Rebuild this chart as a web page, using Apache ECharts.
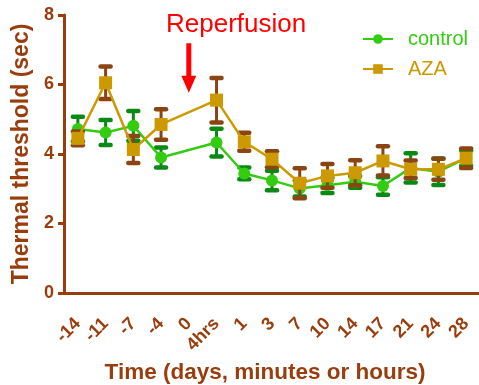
<!DOCTYPE html>
<html><head><meta charset="utf-8">
<script src="https://cdn.jsdelivr.net/npm/echarts@6/dist/echarts.min.js"></script>
<style>html,body{margin:0;padding:0;background:#fff}#c{width:479px;height:385px}</style>
</head><body><div id="c"></div>
<script>
var categories = ['-14','-11','-7','-4','0','4hrs','1','3','7','10','14','17','21','24','28'];
var controlMean = [4.72, 4.62, 4.81, 3.90, null, 4.33, 3.44, 3.24, 3.01, 3.10, 3.20, 3.08, 3.60, 3.49, 3.88];
var controlErr  = [0.35, 0.36, 0.43, 0.29, null, 0.40, 0.17, 0.28, 0.23, 0.22, 0.17, 0.25, 0.42, 0.38, 0.22];
var azaMean = [4.45, 6.05, 4.13, 4.85, null, 5.55, 4.35, 3.85, 3.16, 3.37, 3.46, 3.80, 3.56, 3.56, 3.88];
var azaErr  = [0.20, 0.47, 0.39, 0.44, null, 0.64, 0.26, 0.23, 0.43, 0.34, 0.36, 0.42, 0.25, 0.30, 0.28];
var yTicks = [0, 2, 4, 6, 8];

var AXIS = '#993d0d';
var FONT = '"Liberation Sans", Arial, sans-serif';

function errData(mean, err) {
  var out = [];
  for (var i = 0; i < mean.length; i++) {
    if (mean[i] == null) continue;
    out.push([i, mean[i] - err[i], mean[i] + err[i]]);
  }
  return out;
}
function errRender(color) {
  return function (params, api) {
    var x = api.value(0);
    var lo = api.coord([x, api.value(1)]);
    var hi = api.coord([x, api.value(2)]);
    var hw = 5;
    return { type: 'group', children: [
      { type: 'line', shape: { x1: lo[0], y1: lo[1], x2: hi[0], y2: hi[1] }, style: { stroke: color, lineWidth: 3 } },
      { type: 'line', shape: { x1: lo[0] - hw, y1: lo[1], x2: lo[0] + hw, y2: lo[1] }, style: { stroke: color, lineWidth: 4.5, lineCap: 'round' } },
      { type: 'line', shape: { x1: hi[0] - hw, y1: hi[1], x2: hi[0] + hw, y2: hi[1] }, style: { stroke: color, lineWidth: 4.5, lineCap: 'round' } }
    ]};
  };
}

var chart = echarts.init(document.getElementById('c'), null, { renderer: 'canvas' });
chart.setOption({
  animation: false,
  backgroundColor: '#fff',
  title: { text: 'Reperfusion', left: 166, top: 12, padding: 0,
    textStyle: { color: '#ff0000', fontSize: 26, fontWeight: 'normal', fontFamily: FONT } },
  legend: {
    orient: 'vertical', left: 362, top: 29, padding: 0, itemWidth: 30, itemHeight: 12, itemGap: 10,
    textStyle: { fontSize: 20, fontFamily: FONT, padding: [0, 0, 0, 10] },
    data: [
      { name: 'control', textStyle: { color: '#33cc11' } },
      { name: 'AZA', textStyle: { color: '#cc9900' } }
    ]
  },
  grid: { left: 64, right: -1, top: 15, bottom: 92, containLabel: false, outerBoundsMode: 'none' },
  xAxis: {
    type: 'category', data: categories, boundaryGap: true,
    name: 'Time (days, minutes or hours)', nameLocation: 'middle', nameGap: 65,
    nameTextStyle: { color: AXIS, fontSize: 22.5, fontWeight: 'bold', fontFamily: FONT, padding: [0, 14, 0, 0] },
    axisLine: { lineStyle: { color: AXIS, width: 3 } },
    axisTick: { alignWithLabel: true, length: 8, lineStyle: { color: AXIS, width: 3 } },
    axisLabel: { rotate: 45, color: AXIS, fontSize: 18, fontWeight: 'bold', fontFamily: FONT, margin: 28, interval: 0 },
    splitLine: { show: false }
  },
  yAxis: {
    type: 'value', min: 0, max: 8, interval: 2,
    name: 'Thermal threshold (sec)', nameLocation: 'middle', nameGap: 29,
    nameTextStyle: { color: AXIS, fontSize: 23, fontWeight: 'bold', fontFamily: FONT },
    axisLine: { show: true, lineStyle: { color: AXIS, width: 3 } },
    axisTick: { show: true, length: 6, lineStyle: { color: AXIS, width: 3 } },
    axisLabel: { color: AXIS, fontSize: 18, fontWeight: 'bold', fontFamily: FONT, margin: 10,
      formatter: function (v) { return yTicks.indexOf(v) >= 0 ? String(v) : ''; } },
    splitLine: { show: false }
  },
  series: [
    { name: 'control_err', type: 'custom', renderItem: errRender('#0a8a14'), data: errData(controlMean, controlErr),
      encode: { x: 0, y: [1, 2] }, z: 1, silent: true },
    { name: 'control', type: 'line', data: controlMean, connectNulls: true, z: 2,
      symbol: 'circle', symbolSize: 12, itemStyle: { color: '#33cc11' }, lineStyle: { color: '#33cc11', width: 2.5 } },
    { name: 'AZA_err', type: 'custom', renderItem: errRender('#8b4513'), data: errData(azaMean, azaErr),
      encode: { x: 0, y: [1, 2] }, z: 3, silent: true },
    { name: 'AZA', type: 'line', data: azaMean, connectNulls: true, z: 4,
      symbol: 'rect', symbolSize: 13, itemStyle: { color: '#cc9900' }, lineStyle: { color: '#cc9900', width: 2.5 } }
  ]
});

var arrowTop = chart.convertToPixel({ xAxisIndex: 0, yAxisIndex: 0 }, ['0', 7.19]);
var arrowBot = chart.convertToPixel({ xAxisIndex: 0, yAxisIndex: 0 }, ['0', 5.76]);
var ax = arrowTop[0], sw = 2.5, hw = 7.5, headH = 17;
chart.setOption({
  graphic: [{
    type: 'polygon', silent: true,
    shape: { points: [
      [ax - sw, arrowTop[1]], [ax + sw, arrowTop[1]], [ax + sw, arrowBot[1] - headH], [ax + hw, arrowBot[1] - headH],
      [ax, arrowBot[1]], [ax - hw, arrowBot[1] - headH], [ax - sw, arrowBot[1] - headH]
    ] },
    style: { fill: '#ff0000' }
  }]
});
</script></body></html>
